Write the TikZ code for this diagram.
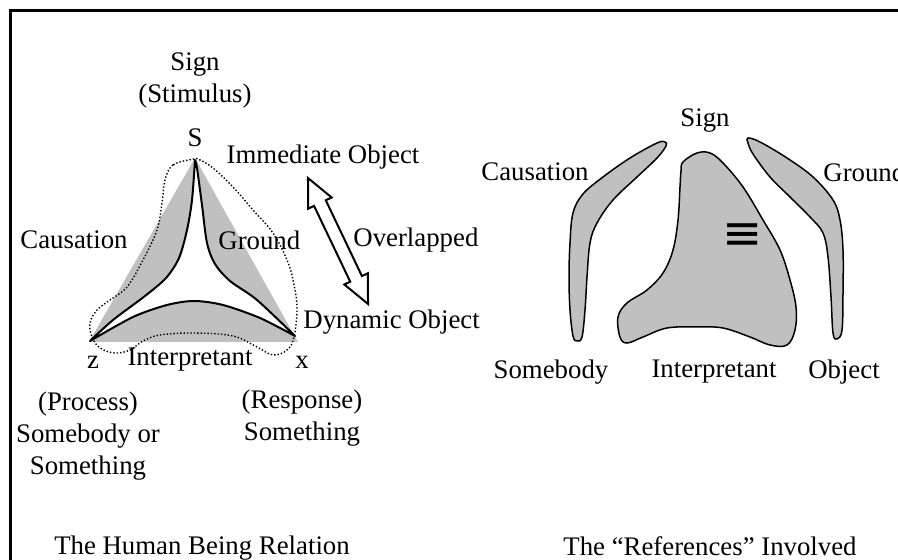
\documentclass[tikz,border=0pt]{standalone}
\usepackage{fontspec}
\setmainfont{Liberation Serif}
\newfontfamily\symfont{DejaVu Sans}
\usetikzlibrary{positioning, calc}
\definecolor{cShade}{HTML}{C0C0C0}
\newcommand{\lblfont}{\fontsize{13.4}{16}\selectfont}
\tikzset{
  lbl/.style       ={font=\lblfont, inner sep=1pt, align=center},
  frameline/.style ={line width=1.5pt},
  shadetri/.style  ={fill=cShade},
  cuspline/.style  ={draw=black, fill=white, line width=1pt, line join=round},
  dotline/.style   ={line width=0.7pt, dash pattern=on 0.7pt off 1pt},
  hollowarrow/.style={draw=black, fill=white, line width=1pt, line join=miter},
  refshape/.style  ={draw=black, fill=cShade, line width=0.75pt},
  symlbl/.style    ={font=\symfont\fontsize{24}{24}\selectfont, inner sep=0pt},
}

\begin{document}
\begin{tikzpicture}[x=0.5pt, y=-0.5pt]

  \clip (0,0) rectangle (898,560);

  % ============================================================
  % FRAME (left and top rule)
  % ============================================================
  \draw[frameline] (10.5,570) -- (10.5,10.5) -- (910,10.5);

  % ============================================================
  % LEFT: THE HUMAN BEING RELATION
  % ============================================================
  \coordinate (sApex)   at (195,160);
  \coordinate (zCorner) at (90,341);
  \coordinate (xCorner) at (295,336);

  % grey triangle
  \fill[shadetri] (195,158) -- (89,342) -- (298,342) -- cycle;

  % white cusp region
  \draw[cuspline] (sApex)
    -- plot[smooth] coordinates {(sApex) (192,200) (187,230) (179,258)
                                 (166,278) (145,296) (113,320) (zCorner)}
    -- plot[smooth] coordinates {(zCorner) (133,317) (167,305) (194,301)
                                 (223,305) (260,318) (xCorner)}
    -- plot[smooth] coordinates {(xCorner) (257,300) (230,281) (215,264)
                                 (207,243) (202,205) (197,168) (sApex)}
    -- cycle;

  % dotted boundary
  \draw[dotline] plot[smooth cycle, tension=0.6] coordinates {
    (194,159) (173,165) (165,180) (162,203) (157,230) (143,260)
    (127,287) (110,300) (97,310) (90,323) (92,337) (100,348)
    (115,353) (130,350) (143,341) (160,335) (194,333) (233,336)
    (257,347) (273,355) (287,350) (294,337) (297,307) (293,280)
    (287,260) (273,233) (253,210) (233,187) (213,168) (200,160)};

  % overlap arrow
  \begin{scope}[shift={(338,241)}, rotate=-64.5]
    \draw[hollowarrow] (-69.75,0) -- (-42,13) -- (-42,6.5) -- (42,6.5)
      -- (42,13) -- (69.75,0) -- (42,-13) -- (42,-6.5) -- (-42,-6.5)
      -- (-42,-13) -- cycle;
  \end{scope}

  % labels
  \node[lbl] (signStim) at (195,80) {Sign\\(Stimulus)};
  \node[lbl] (sLbl) at (195,138) {S};
  \node[lbl] (immObj) at (323,157) {Immediate Object};
  \node[lbl, anchor=west] (overlap) at (351,240) {Overlapped};
  \node[lbl, anchor=west] (dynObj) at (301,322) {Dynamic Object};
  \node[lbl, anchor=west] (causL) at (18,240) {Causation};
  \node[lbl, anchor=west] (groundL) at (216,240) {Ground};
  \node[lbl] (zLbl) at (93,362) {z};
  \node[lbl] (interpL) at (190,360) {Interpretant};
  \node[lbl] (xLbl) at (302,362) {x};
  \node[lbl] (process) at (88,436) {(Process)\\Somebody or\\Something};
  \node[lbl] (response) at (302,418) {(Response)\\Something};
  \node[lbl] (captionL) at (202,548) {The Human Being Relation};

  % ============================================================
  % RIGHT: THE REFERENCES INVOLVED
  % ============================================================
  % causation boomerang
  \draw[refshape] plot[smooth cycle, tension=0.6] coordinates {
    (665,142) (657,143) (630,158) (603,177) (583,194) (573,213)
    (570,243) (569,277) (570,310) (573,336) (577,341) (582,337)
    (585,310) (587,277) (590,243) (597,223) (613,200) (637,177)
    (657,158) (666,146)};

  % ground boomerang
  \draw[refshape] plot[smooth cycle, tension=0.6] coordinates {
    (748,138) (760,142) (787,158) (813,177) (833,200) (840,220)
    (843,250) (843,293) (842,330) (837,339) (833,333) (831,297)
    (828,257) (823,233) (810,217) (790,197) (770,177) (753,154)
    (748,143)};

  % interpretant blob
  \draw[refshape] plot[smooth cycle, tension=0.6] coordinates {
    (683,162) (697,153) (710,153) (723,163) (743,187) (763,220)
    (780,250) (790,280) (796,307) (795,330) (787,345) (770,345)
    (750,337) (723,328) (697,327) (667,328) (643,337) (627,343)
    (620,337) (618,317) (627,303) (647,290) (663,273) (673,250)
    (678,220) (680,187) (681,171)};

  \node[symlbl] (equivSym) at (743,237) {≡};

  % labels
  \node[lbl] (signR) at (705,121) {Sign};
  \node[lbl, anchor=west] (causR) at (479,172) {Causation};
  \node[lbl, anchor=west] (groundR) at (821,172) {Ground};
  \node[lbl] (somebodyR) at (551,372) {Somebody};
  \node[lbl] (interpR) at (714,372) {Interpretant};
  \node[lbl] (objectR) at (844,372) {Object};
  \node[lbl] (captionR) at (710,546) {The ``References'' Involved};

\end{tikzpicture}
\end{document}
